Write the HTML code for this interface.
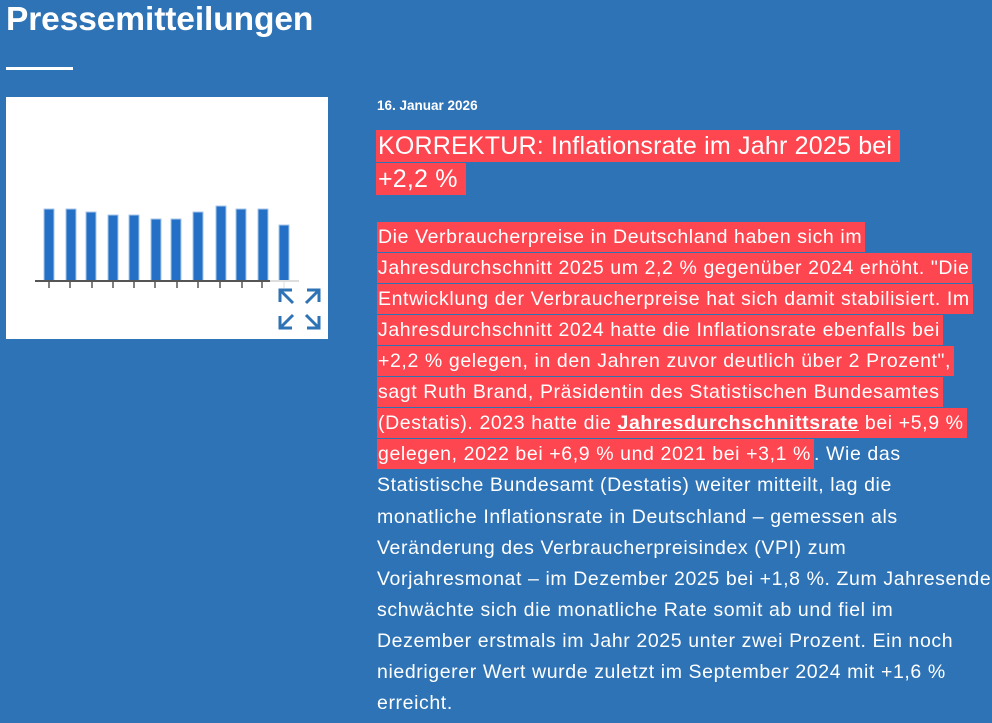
<!DOCTYPE html>
<html><head><meta charset="utf-8"><style>
body{margin:0;width:992px;height:723px;background:#2e73b5;overflow:hidden;font-family:"Liberation Sans",sans-serif;color:#fff;position:relative}
.h1{position:absolute;left:6px;top:1px;font-size:33.5px;font-weight:bold;letter-spacing:-0.1px}
.ul{position:absolute;left:6px;top:67px;width:67px;height:3px;background:#fff}
.img{position:absolute;left:6px;top:97px;width:322px;height:242px;background:#fff}
.date{position:absolute;left:377px;top:98px;font-size:13.5px;font-weight:bold}
.t{position:absolute;left:376px;font-size:25px;letter-spacing:0.2px;line-height:32px}
.t .hl{padding:2px 8px 2px 2px}
.hl{background:#fd4650;padding:4px 3px 4px 1px}
.b{position:absolute;left:377px;font-size:19.5px;letter-spacing:0.6px;line-height:28px;white-space:nowrap}
</style></head><body>
<div class="h1">Pressemitteilungen</div>
<div class="ul"></div>
<div class="img">
<svg width="322" height="242">
<g fill="#2470c6" stroke="#a9c7ea" stroke-width="1">
<rect x="38" y="112" width="10" height="72"/><rect x="60" y="112" width="10" height="72"/>
<rect x="80" y="115" width="10" height="69"/><rect x="102" y="118" width="10" height="66"/>
<rect x="123" y="118" width="10" height="66"/><rect x="145" y="122" width="10" height="62"/>
<rect x="165" y="122" width="10" height="62"/><rect x="187" y="115" width="10" height="69"/>
<rect x="210" y="109" width="10" height="75"/><rect x="230" y="112" width="10" height="72"/>
<rect x="252" y="112" width="10" height="72"/><rect x="273" y="128" width="10" height="56"/>
</g>
<line x1="29" y1="184" x2="264" y2="184" stroke="#555" stroke-width="2"/>
<line x1="264" y1="184" x2="293" y2="184" stroke="#ddd" stroke-width="2"/>
<g stroke="#555" stroke-width="1.5">
<line x1="43" y1="184" x2="43" y2="191"/><line x1="64" y1="184" x2="64" y2="191"/><line x1="86" y1="184" x2="86" y2="191"/><line x1="107" y1="184" x2="107" y2="191"/><line x1="128" y1="184" x2="128" y2="191"/><line x1="149" y1="184" x2="149" y2="191"/><line x1="171" y1="184" x2="171" y2="191"/><line x1="192" y1="184" x2="192" y2="191"/><line x1="214" y1="184" x2="214" y2="191"/><line x1="236" y1="184" x2="236" y2="191"/><line x1="256" y1="184" x2="256" y2="191"/></g>
<line x1="278" y1="184" x2="278" y2="191" stroke="#ddd"/>
<g stroke="#2e73b5" stroke-width="3" fill="none">
<path d="M274 205v-12h12M274 193l13 13"/><path d="M313 205v-12h-12M313 193l-13 13"/>
<path d="M274 219v12h12M274 231l13-13"/><path d="M313 219v12h-12M313 231l-13-13"/>
</g>
</svg></div>
<div class="date">16. Januar 2026</div>
<div class="t" style="top:130px"><span class="hl">KORREKTUR: Inflationsrate im Jahr 2025 bei </span></div>
<div class="t" style="top:163px"><span class="hl">+2,2 % </span></div>
<div class="b" style="top:223px"><span class="hl">Die Verbraucherpreise in Deutschland haben sich im </span></div>
<div class="b" style="top:254px"><span class="hl">Jahresdurchschnitt 2025 um 2,2 % gegenüber 2024 erhöht. "Die</span></div>
<div class="b" style="top:285px"><span class="hl">Entwicklung der Verbraucherpreise hat sich damit stabilisiert. Im</span></div>
<div class="b" style="top:316px"><span class="hl">Jahresdurchschnitt 2024 hatte die Inflationsrate ebenfalls bei </span></div>
<div class="b" style="top:347px"><span class="hl">+2,2 % gelegen, in den Jahren zuvor deutlich über 2 Prozent", </span></div>
<div class="b" style="top:378px"><span class="hl">sagt Ruth Brand, Präsidentin des Statistischen Bundesamtes </span></div>
<div class="b" style="top:409px"><span class="hl">(Destatis). 2023 hatte die <b><u>Jahresdurchschnittsrate</u></b> bei +5,9 % </span></div>
<div class="b" style="top:440px"><span class="hl">gelegen, 2022 bei +6,9 % und 2021 bei +3,1 %</span>. Wie das</div>
<div class="b" style="top:471px">Statistische Bundesamt (Destatis) weiter mitteilt, lag die</div>
<div class="b" style="top:503px">monatliche Inflationsrate in Deutschland – gemessen als</div>
<div class="b" style="top:534px">Veränderung des Verbraucherpreisindex (VPI) zum</div>
<div class="b" style="top:565px">Vorjahresmonat – im Dezember 2025 bei +1,8 %. Zum Jahresende</div>
<div class="b" style="top:596px">schwächte sich die monatliche Rate somit ab und fiel im</div>
<div class="b" style="top:627px">Dezember erstmals im Jahr 2025 unter zwei Prozent. Ein noch</div>
<div class="b" style="top:658px">niedrigerer Wert wurde zuletzt im September 2024 mit +1,6 %</div>
<div class="b" style="top:689px">erreicht.</div>
</body></html>
